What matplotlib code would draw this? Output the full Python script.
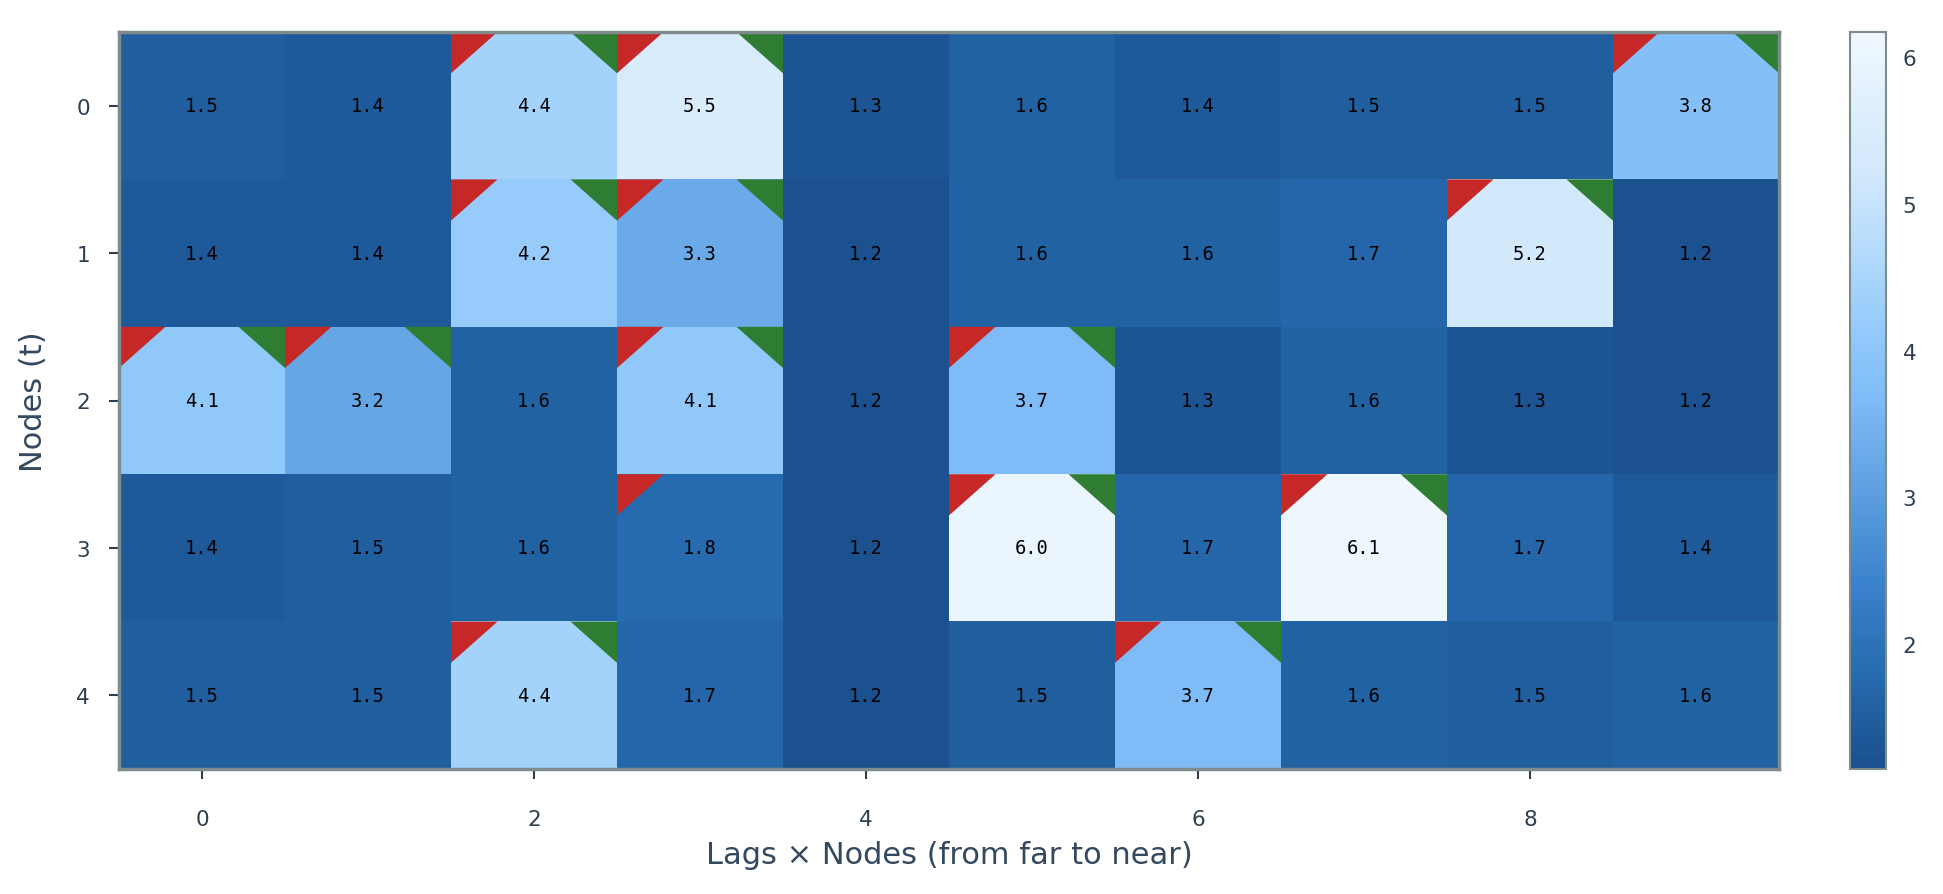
import matplotlib
matplotlib.use('Agg')
import matplotlib.pyplot as plt
import numpy as np
from matplotlib.colors import LinearSegmentedColormap
from matplotlib.patches import Polygon


values = np.array([
    [1.5, 1.4, 4.4, 5.5, 1.3, 1.6, 1.4, 1.5, 1.5, 3.8],
    [1.4, 1.4, 4.2, 3.3, 1.2, 1.6, 1.6, 1.7, 5.2, 1.2],
    [4.1, 3.2, 1.6, 4.1, 1.2, 3.7, 1.3, 1.6, 1.3, 1.2],
    [1.4, 1.5, 1.6, 1.8, 1.2, 6.0, 1.7, 6.1, 1.7, 1.4],
    [1.5, 1.5, 4.4, 1.7, 1.2, 1.5, 3.7, 1.6, 1.5, 1.6],
])

# cells marked with a red (top-left) / green (top-right) corner
red_marks = [(0, 2), (0, 3), (0, 9), (1, 2), (1, 3), (1, 8),
             (2, 0), (2, 1), (2, 3), (2, 5), (3, 3), (3, 5), (3, 7),
             (4, 2), (4, 6)]
green_marks = [(0, 2), (0, 3), (0, 9), (1, 2), (1, 3), (1, 8),
               (2, 0), (2, 1), (2, 3), (2, 5), (3, 5), (3, 7),
               (4, 2), (4, 6)]

cmap = LinearSegmentedColormap.from_list('blues', [
    (0.0, '#1b508e'),
    (0.09, '#2263a4'),
    (0.13, '#276bb0'),
    (0.25, '#3b82cc'),
    (0.41, '#66a7e6'),
    (0.51, '#80bdf8'),
    (0.59, '#92c9fb'),
    (0.65, '#a4d3fb'),
    (0.81, '#d3e9fc'),
    (0.87, '#daedfd'),
    (1.0, '#f0f8ff'),
])

text_color = '#2c3e50'
frame_color = '#7f8c8d'

fig = plt.figure(figsize=(19.43, 8.95), dpi=100)
ax = fig.add_axes([119 / 1943, 1 - 770 / 895, (1779 - 119) / 1943, (770 - 33) / 895])
cax = fig.add_axes([1850 / 1943, 1 - 770 / 895, 36 / 1943, (770 - 33) / 895])

im = ax.imshow(values, cmap=cmap, vmin=1.15, vmax=6.17, aspect='auto',
               interpolation='nearest')

s = 0.28
for r, c in red_marks:
    ax.add_patch(Polygon([(c - 0.5, r - 0.5), (c - 0.5 + s, r - 0.5), (c - 0.5, r - 0.5 + s)],
                         closed=True, facecolor='#c62828', edgecolor='none'))
for r, c in green_marks:
    ax.add_patch(Polygon([(c + 0.5, r - 0.5), (c + 0.5 - s, r - 0.5), (c + 0.5, r - 0.5 + s)],
                         closed=True, facecolor='#2e7d32', edgecolor='none'))

for r in range(values.shape[0]):
    for c in range(values.shape[1]):
        ax.text(c, r, f'{values[r, c]:.1f}', ha='center', va='center',
                fontsize=13.5, family='DejaVu Sans Mono', color='black')

ax.set_xticks([0, 2, 4, 6, 8])
ax.set_yticks(range(5))
ax.tick_params(colors=text_color, labelsize=15.5, length=7, width=1.5)
ax.tick_params(axis='x', pad=22)
ax.tick_params(axis='y', pad=14)
ax.set_xlabel('Lags × Nodes (from far to near)', fontsize=22, color='#34495e', labelpad=8)
ax.set_ylabel('Nodes (t)', fontsize=22, color='#34495e', labelpad=20)
for sp in ax.spines.values():
    sp.set_color(frame_color)
    sp.set_linewidth(2.5)

cb = fig.colorbar(im, cax=cax)
cb.set_ticks([2, 3, 4, 5, 6])
cb.ax.tick_params(colors=text_color, labelsize=15.5, length=0, pad=12)
cb.outline.set_edgecolor(frame_color)
cb.outline.set_linewidth(1.5)

fig.savefig('out.png', dpi=100)
